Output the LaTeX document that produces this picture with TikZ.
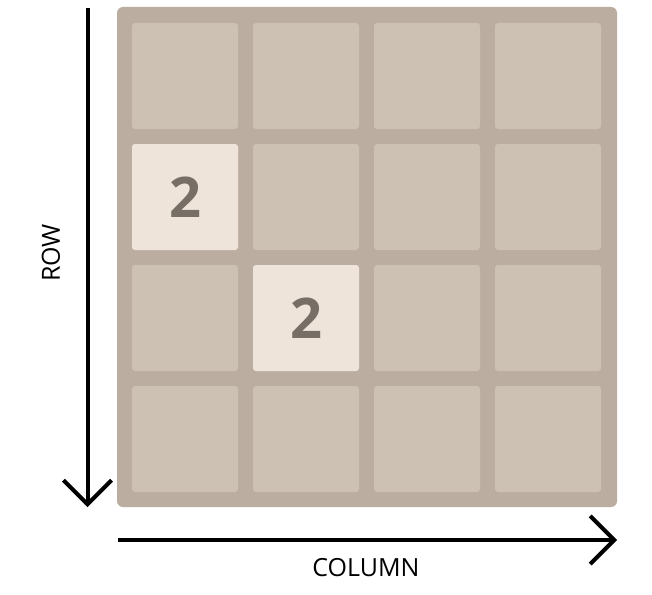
\documentclass[tikz,border=0pt]{standalone}
\usepackage{fontspec}
\setmainfont{Open Sans}
\usetikzlibrary{positioning,arrows.meta}
\definecolor{boardbg}{HTML}{BBADA0}
\definecolor{cellbg}{HTML}{CDC1B4}
\definecolor{twobg}{HTML}{EEE4DA}
\definecolor{twofg}{HTML}{776E65}

\begin{document}
\begin{tikzpicture}[x=1pt,y=-1pt,
  font=\fontsize{25}{25}\selectfont,
  cell/.style={rectangle,rounded corners=3pt,minimum size=106pt,inner sep=0pt,fill=cellbg},
  two/.style={cell,fill=twobg,text=twofg,font=\bfseries\fontsize{56}{56}\selectfont},
  axis/.style={line width=4pt,-{Straight Barb[length=24pt,width=48pt]}}]
    \useasboundingbox (0,0) rectangle (652,594);
    \node[rectangle,rounded corners=6pt,minimum size=500pt,fill=boardbg] (board) at (367,257) {};
    \foreach \row in {0,...,3}
      \foreach \col in {0,...,3}
        \node[cell] (c\row\col) at (185+121*\col,76+121*\row) {};
    \node[two] (two_a) at (c10) {2};
    \node[two] (two_b) at (c21) {2};
    %
    \coordinate (row_start) at (87.5,8);
    \coordinate (row_end) at (87.5,507);
    \coordinate (col_start) at (117.5,540);
    \coordinate (col_end) at (617,540);
    \draw[axis] (row_start) -- (row_end);
    \draw[axis] (col_start) -- (col_end);
    %
    \node[rotate=90] (row_label) at (51,253) {ROW};
    \node (col_label) at (366,568) {COLUMN};
\end{tikzpicture}
\end{document}
